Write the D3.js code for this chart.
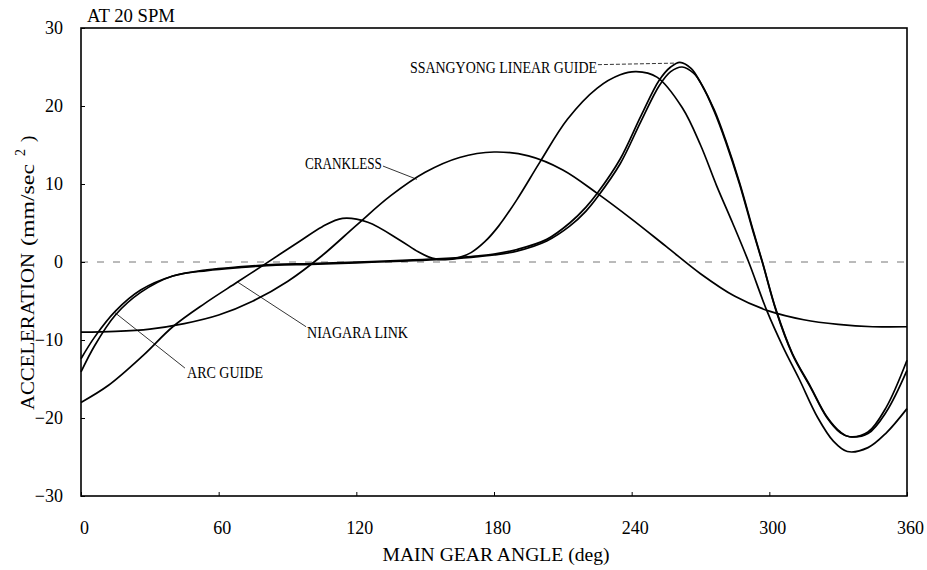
<!DOCTYPE html>
<html>
<head>
<meta charset="utf-8">
<script src="https://cdn.jsdelivr.net/npm/d3@7"></script>
<style>
  html, body { margin: 0; padding: 0; background: #fff; }
  svg { display: block; }
  text { font-family: "Liberation Serif", "DejaVu Serif", serif; fill: #000; }
</style>
</head>
<body>
<svg id="chart" width="927" height="570"></svg>
<script>
// ---- Data ----
const angleTicks = [0, 60, 120, 180, 240, 300, 360];
const accelTicks = [-30, -20, -10, 0, 10, 20, 30];

const cranklessAngle = [0, 15, 30, 45, 60, 75, 90, 105, 120, 135, 150, 165, 180, 195, 210, 225, 240, 255, 270, 285, 300, 315, 330, 345, 360];
const cranklessAccel = [-9.0, -8.9, -8.6, -7.9, -6.8, -5.0, -2.5, 0.8, 4.7, 8.5, 11.5, 13.4, 14.1, 13.6, 11.8, 8.8, 5.5, 2.0, -1.5, -4.4, -6.3, -7.4, -8.0, -8.3, -8.3];

const niagaraAngle = [0, 12, 27, 40, 54, 68, 80, 95, 105, 114, 125, 139, 147, 153, 159, 165, 170, 176, 182, 190, 200, 212, 225, 235, 242, 251, 262, 270, 277, 284, 291, 299, 306, 313, 321, 328, 334, 343, 351, 360];
const niagaraAccel = [-18.0, -15.8, -12.0, -8.3, -5.3, -2.6, -0.3, 2.6, 4.5, 5.6, 5.1, 2.8, 1.3, 0.5, 0.3, 0.6, 1.2, 2.6, 4.6, 8.0, 12.8, 18.3, 22.3, 24.0, 24.4, 23.7, 19.8, 15.0, 9.8, 5.0, 0.0, -6.3, -10.9, -15.0, -19.9, -23.0, -24.3, -23.8, -21.9, -18.8];

const ssangyongAngle = [0, 6, 15, 26, 40, 55, 70, 85, 100, 120, 140, 155, 170, 180, 190, 203, 213, 220, 225, 235, 244, 252, 257, 261, 266, 270, 276, 281, 287, 293, 297, 303, 310, 318, 325, 331, 335, 343, 351, 360];
const ssangyongAccel = [-12.4, -9.6, -6.3, -3.6, -1.8, -1.0, -0.6, -0.3, -0.2, 0.0, 0.2, 0.4, 0.7, 1.0, 1.6, 2.9, 5.0, 7.0, 8.8, 13.2, 18.7, 23.3, 25.0, 25.6, 24.8, 23.0, 19.5, 15.6, 10.2, 4.0, 0.0, -6.2, -11.7, -16.0, -19.8, -21.8, -22.4, -21.8, -18.6, -12.6];

const arcAngle = [0, 6, 15, 26, 40, 55, 70, 85, 100, 120, 140, 155, 170, 180, 190, 203, 213, 220, 225, 235, 244, 252, 257, 262, 267, 271, 276, 281, 287, 293, 297, 303, 310, 318, 325, 331, 335, 343, 351, 360];
const arcAccel = [-14.1, -10.7, -6.8, -3.9, -1.8, -1.1, -0.7, -0.4, -0.3, -0.1, 0.1, 0.3, 0.6, 0.9, 1.4, 2.7, 4.6, 6.5, 8.3, 12.6, 18.0, 22.6, 24.4, 25.0, 24.2, 22.5, 19.3, 15.4, 10.0, 3.8, -0.1, -6.3, -11.8, -16.1, -19.9, -21.9, -22.4, -22.0, -19.2, -13.9];

// annotation labels: text, label anchor (angle, accel), leader from (angle, accel) to (angle, accel)
const labelText   = ["SSANGYONG LINEAR GUIDE", "CRANKLESS", "NIAGARA LINK", "ARC GUIDE"];
const labelAngle  = [143.4, 97.6, 98.5, 46.2];
const labelAccel  = [24.2, 11.9, -9.7, -14.9];
const labelWidth  = [187, 77, 101, 76];
const leaderFrom  = [[225.3, 25.3], [131.6, 12.3], [98.1, -8.3], [45.3, -13.6]];
const leaderTo    = [[259.3, 25.5], [146.4, 10.6], [68.4, -2.6], [14.8, -6.5]];
const leaderDash  = ["4,2", null, null, null];

// ---- Layout ----
const svg = d3.select("#chart");
const plotLeft = 81, plotRight = 907, plotTop = 28, plotBottom = 496;

const x = d3.scaleLinear().domain([0, 360]).range([plotLeft, plotRight]);
const y = d3.scaleLinear().domain([-30, 30]).range([plotBottom, plotTop]);

// zero dashed reference line
svg.append("line")
  .attr("x1", x(0)).attr("x2", x(360))
  .attr("y1", y(0)).attr("y2", y(0))
  .attr("stroke", "#777").attr("stroke-width", 1)
  .attr("stroke-dasharray", "7,9");

// axes
const yAxis = d3.axisLeft(y).tickValues(accelTicks).tickSizeInner(-4).tickSizeOuter(0).tickPadding(18);
const xAxis = d3.axisBottom(x).tickValues(angleTicks).tickSizeInner(-4).tickSizeOuter(0).tickPadding(25);

const gy = svg.append("g").attr("transform", `translate(${plotLeft},0)`).call(yAxis);
const gx = svg.append("g").attr("transform", `translate(0,${plotBottom})`).call(xAxis);
[gy, gx].forEach(g => {
  g.select(".domain").remove();
  g.selectAll("text").attr("font-family", "Liberation Serif").attr("font-size", 18).attr("fill", "#000");
  g.selectAll(".tick line").attr("stroke", "#000").attr("stroke-width", 1);
});
gx.selectAll(".tick text").attr("dx", 3);

// frame
svg.append("rect")
  .attr("x", plotLeft).attr("y", plotTop)
  .attr("width", plotRight - plotLeft).attr("height", plotBottom - plotTop)
  .attr("fill", "none").attr("stroke", "#000").attr("stroke-width", 1.6);

// curves
const series = [
  { a: cranklessAngle, v: cranklessAccel },
  { a: niagaraAngle, v: niagaraAccel },
  { a: ssangyongAngle, v: ssangyongAccel },
  { a: arcAngle, v: arcAccel }
];
const line = d3.line().x(d => x(d[0])).y(d => y(d[1])).curve(d3.curveCatmullRom.alpha(0.5));
svg.append("g").selectAll("path")
  .data(series)
  .join("path")
  .attr("d", s => line(s.a.map((ang, i) => [ang, s.v[i]])))
  .attr("fill", "none")
  .attr("stroke", "#000")
  .attr("stroke-width", 1.7)
  .attr("stroke-linejoin", "round");

// leaders and labels
labelText.forEach((t, i) => {
  svg.append("line")
    .attr("x1", x(leaderFrom[i][0])).attr("y1", y(leaderFrom[i][1]))
    .attr("x2", x(leaderTo[i][0])).attr("y2", y(leaderTo[i][1]))
    .attr("stroke", "#000").attr("stroke-width", 0.8)
    .attr("stroke-dasharray", leaderDash[i]);
  svg.append("text")
    .attr("x", x(labelAngle[i])).attr("y", y(labelAccel[i]))
    .attr("font-size", 16)
    .attr("textLength", labelWidth[i])
    .attr("lengthAdjust", "spacingAndGlyphs")
    .text(t);
});

// title
svg.append("text")
  .attr("x", 87).attr("y", 21.5)
  .attr("font-size", 19)
  .attr("textLength", 88).attr("lengthAdjust", "spacingAndGlyphs")
  .text("AT 20 SPM");

// x-axis title
svg.append("text")
  .attr("x", 496).attr("y", 561)
  .attr("text-anchor", "middle")
  .attr("font-size", 19)
  .attr("textLength", 227).attr("lengthAdjust", "spacingAndGlyphs")
  .text("MAIN GEAR ANGLE (deg)");

// y-axis title (rotated group; x here runs upward on screen)
const yt = svg.append("g").attr("transform", "translate(34,0) rotate(-90)");
yt.append("text").attr("x", -410).attr("y", 0).attr("font-size", 19)
  .attr("textLength", 157).attr("lengthAdjust", "spacingAndGlyphs").text("ACCELERATION");
yt.append("text").attr("x", -246).attr("y", 0).attr("font-size", 19)
  .attr("textLength", 82).attr("lengthAdjust", "spacingAndGlyphs").text("(mm/sec");
yt.append("text").attr("x", -156).attr("y", -9).attr("font-size", 14).text("2");
yt.append("text").attr("x", -142).attr("y", 0).attr("font-size", 19).text(")");
</script>
</body>
</html>
